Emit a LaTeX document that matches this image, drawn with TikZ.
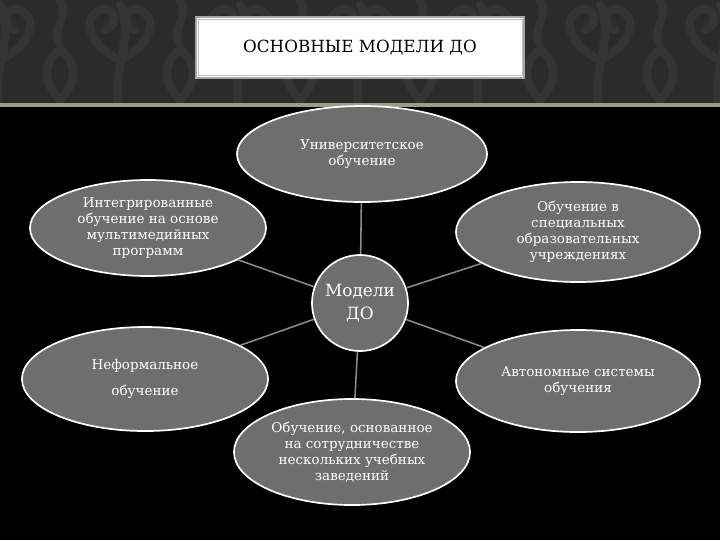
\documentclass[tikz,border=0pt]{standalone}
\usepackage{fontspec}
\setmainfont{DejaVu Serif}
\usetikzlibrary{shapes.geometric}
\definecolor{band}{HTML}{2B2B2B}
\definecolor{damask}{HTML}{343434}
\definecolor{stripe}{HTML}{9A9C8C}
\definecolor{bubble}{HTML}{6E6E6F}
\definecolor{linkc}{HTML}{8A8A8A}
\tikzset{
  bub/.style={ellipse, fill=bubble, draw=white, line width=1.2pt, inner sep=0pt,
    text=white, align=center, font=\fontsize{9.6}{11.4}\selectfont},
  link/.style={draw=linkc, line width=1.1pt},
  motif/.style={draw=damask, line width=6pt, line cap=round}
}
\begin{document}
\begin{tikzpicture}[x=0.025cm,y=-0.025cm]
\useasboundingbox (0,0) rectangle (720,540);
\fill[black] (0,0) rectangle (720,540);
\fill[band] (0,0) rectangle (720,103);
\begin{scope}
\clip (0,0) rectangle (720,103);
\foreach \x in {0,120,...,720}{
  \draw[motif] (\x,110) .. controls (\x-10,70) and (\x+15,40) .. (\x,5);
  \draw[motif] (\x,60) .. controls (\x-30,45) and (\x-40,20) .. (\x-20,10) .. controls (\x-5,5) and (\x,25) .. (\x-15,30);
  \draw[motif] (\x,60) .. controls (\x+30,45) and (\x+40,20) .. (\x+20,10) .. controls (\x+5,5) and (\x,25) .. (\x+15,30);
  \draw[motif] (\x+60,100) .. controls (\x+40,80) and (\x+45,60) .. (\x+60,50) .. controls (\x+75,60) and (\x+80,80) .. (\x+60,100);
  \draw[motif] (\x+60,45) .. controls (\x+50,30) and (\x+70,15) .. (\x+60,0);
}
\end{scope}
\fill[stripe] (0,103) rectangle (720,107);
% title
\node[draw=gray!70, line width=0.8pt, fill=white, minimum width=8.2cm, minimum height=1.525cm,
  inner sep=0pt, font=\fontsize{11.9}{14}\selectfont] (title) at (360,47.5) {ОСНОВНЫЕ МОДЕЛИ ДО};
\draw[gray!50, line width=0.4pt] ([xshift=2pt,yshift=-2pt]title.north west) rectangle ([xshift=-2pt,yshift=2pt]title.south east);
% nodes
\node[bub, circle, minimum size=2.4cm, font=\fontsize{12}{16.5}\selectfont] (c) at (360,303) {Модели\\ДО};
\node[bub, minimum width=6.25cm, minimum height=2.4cm] (u) at (362,154) {Университетское\\обучение};
\node[bub, minimum width=5.9cm, minimum height=2.4cm] (lt) at (148,228) {Интегрированные\\обучение на основе\\мультимедийных\\программ};
\node[bub, minimum width=6.1cm, minimum height=2.5cm] (rt) at (578,232) {Обучение в\\специальных\\образовательных\\учреждениях};
\node[bub, minimum width=6.15cm, minimum height=2.6cm, font=\fontsize{9.6}{19}\selectfont] (lb) at (145,379) {Неформальное\\обучение};
\node[bub, minimum width=6.1cm, minimum height=2.55cm] (rb) at (578,381) {Автономные системы\\обучения};
\node[bub, minimum width=5.9cm, minimum height=2.65cm] (b) at (352,452) {Обучение, основанное\\на сотрудничестве\\нескольких учебных\\заведений};
% connectors
\foreach \n in {u,lt,rt,lb,rb,b}{ \draw[link] (c) -- (\n); }
\end{tikzpicture}
\end{document}
